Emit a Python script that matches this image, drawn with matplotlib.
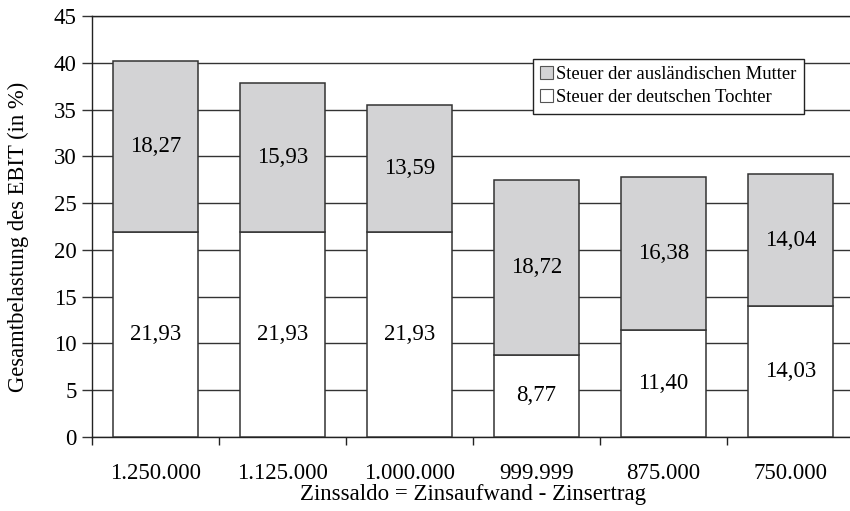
import matplotlib
matplotlib.use("Agg")
import matplotlib.pyplot as plt
import numpy as np

categories = ["1.250.000", "1.125.000", "1.000.000", "999.999", "875.000", "750.000"]
tochter = [21.93, 21.93, 21.93, 8.77, 11.40, 14.03]
mutter = [18.27, 15.93, 13.59, 18.72, 16.38, 14.04]
series_names = ["Steuer der ausländischen Mutter", "Steuer der deutschen Tochter"]
yticks = [0, 5, 10, 15, 20, 25, 30, 35, 40, 45]

plt.rcParams['font.family'] = ['Liberation Serif', 'DejaVu Serif']

fig = plt.figure(figsize=(8.5, 5.11), dpi=100)
ax = fig.add_axes([92/850, 74/511, 762/850, 421/511])

FS = 16.5
x = np.arange(len(categories))
w = 0.67
grey = "#d3d3d5"
edge = "#333333"
b1 = ax.bar(x, tochter, width=w, color="white", edgecolor=edge, linewidth=1.1, zorder=3,
            label=series_names[1])
b2 = ax.bar(x, mutter, width=w, bottom=tochter, color=grey, edgecolor=edge, linewidth=1.1,
            zorder=3, label=series_names[0])

def fmt(v):
    return f"{v:.2f}".replace(".", ",")

for i in range(len(categories)):
    ax.text(x[i], tochter[i] / 2, fmt(tochter[i]), ha="center", va="center", fontsize=FS, zorder=4)
    ax.text(x[i], tochter[i] + mutter[i] / 2, fmt(mutter[i]), ha="center", va="center",
            fontsize=FS, zorder=4)

ax.set_xlim(-0.5, len(categories) - 0.5)
ax.set_ylim(0, 45)
ax.set_yticks(yticks)
ax.set_yticklabels([str(t) for t in yticks], fontsize=FS)
ax.yaxis.grid(True, color="#333333", linewidth=1.0, zorder=0)
ax.set_axisbelow(True)

ax.set_xticks(x)
ax.set_xticklabels(categories, fontsize=FS)
ax.tick_params(axis="x", which="major", length=0, pad=19)
ax.set_xticks(np.arange(-0.5, len(categories) + 0.5, 1), minor=True)
ax.tick_params(axis="x", which="minor", length=6, width=1.0, color="#222222", direction="out")
ax.tick_params(axis="y", length=7, width=1.0, color="#333333", pad=4)

for s in ax.spines.values():
    s.set_color("#222222")
    s.set_linewidth(1.0)

ax.set_ylabel("Gesamtbelastung des EBIT (in %)", fontsize=16.3)
ax.yaxis.set_label_coords((29 - 92) / 762, (437 - 237) / 421)
ax.set_xlabel("Zinssaldo = Zinsaufwand - Zinsertrag", fontsize=FS, labelpad=0)

leg = ax.legend(handles=[b2, b1], labels=series_names, loc="upper left",
                bbox_to_anchor=((533 - 92) / 762, (437 - 59) / 421),
                fontsize=13.4, frameon=True, fancybox=False, framealpha=1,
                edgecolor="#222222", handlelength=0.7, handleheight=0.7,
                handletextpad=0.15, borderpad=0.4, labelspacing=0.3, borderaxespad=0)
leg.get_frame().set_linewidth(1.0)
leg.set_zorder(5)
for h in leg.legend_handles:
    h.set_edgecolor("#555555")
    h.set_linewidth(0.8)

fig.savefig("out.png", dpi=100)
